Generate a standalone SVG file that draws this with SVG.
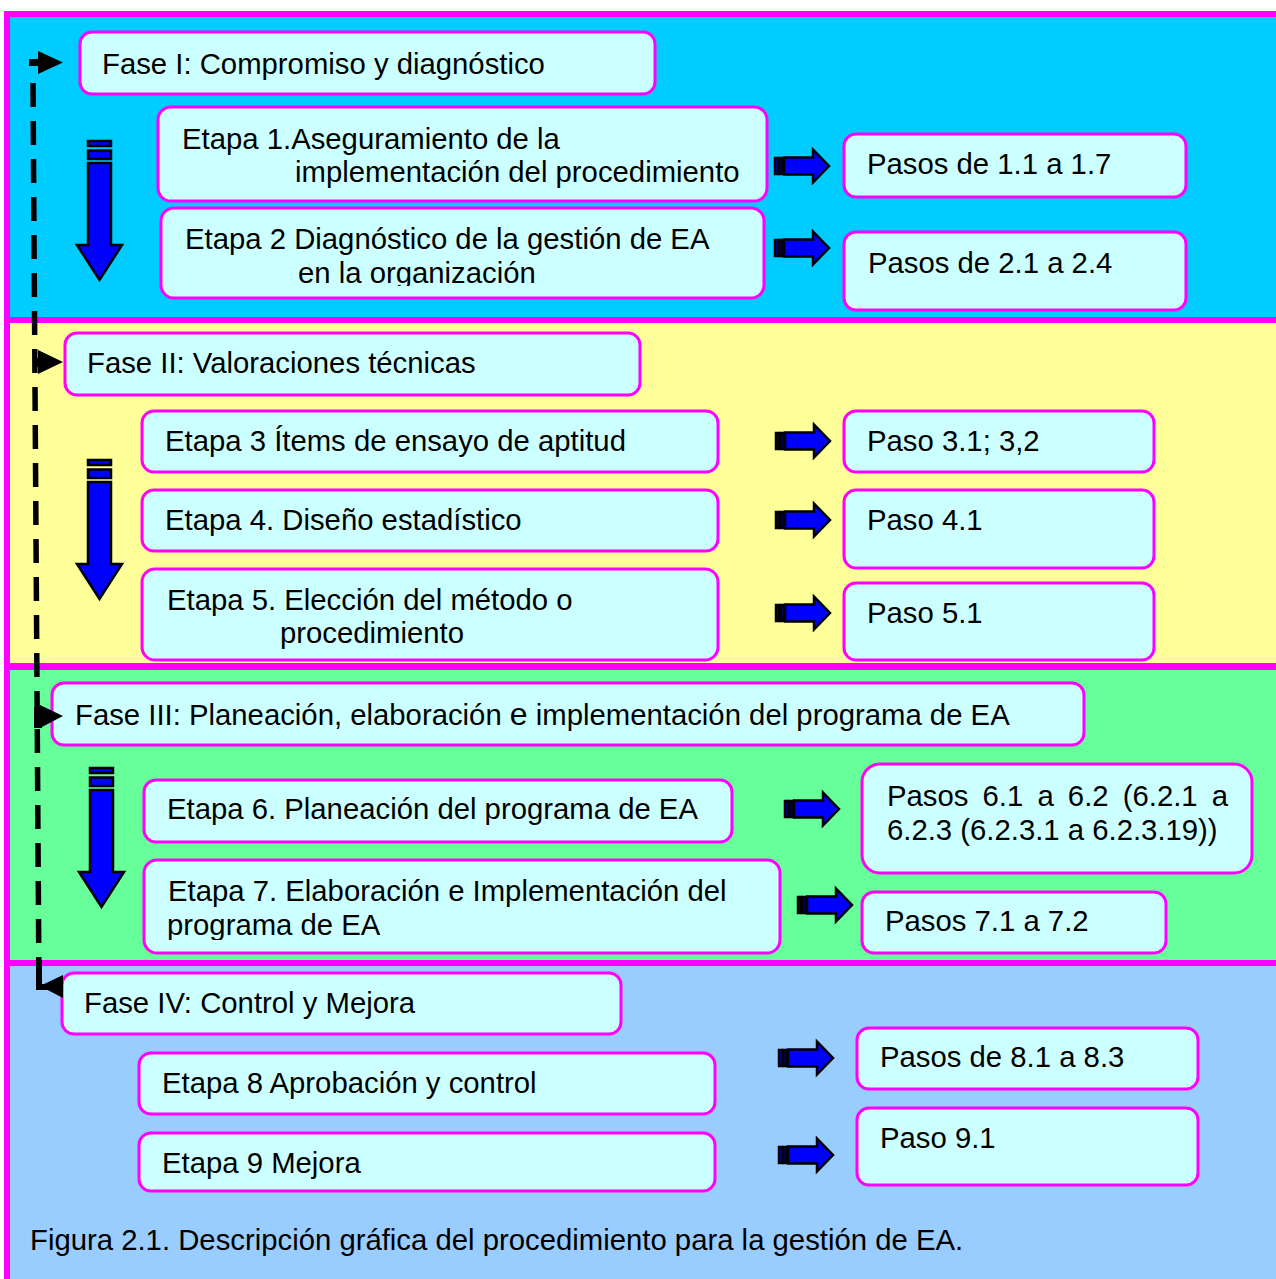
<svg xmlns="http://www.w3.org/2000/svg" width="1276" height="1279" viewBox="0 0 1276 1279">
  <style>
    .box { fill: #CCFFFF; stroke: #FF00FF; stroke-width: 3; }
    .t { font-family: "Liberation Sans", Arial, Helvetica, sans-serif; font-size: 29.3px; fill: #000; }
    .blk { fill: #0000FF; stroke: #000; stroke-width: 2.5; stroke-linejoin: miter; }
    .dash { fill: none; stroke: #000; stroke-width: 5.5; stroke-dasharray: 24 14; }
    .head { fill: #000; }
  </style>
  <defs>
    <!-- block arrow pointing right; origin at tail, vertical centre -->
    <g id="rarrow">
      <rect class="blk" x="1" y="-8" width="3" height="16"/>
      <rect class="blk" x="5.5" y="-8" width="3" height="16"/>
      <path class="blk" d="M10,-8.5 H39 V-16.5 L55,0 L39,16.5 V8.5 H10 Z"/>
    </g>
    <!-- block arrow pointing down; origin at top-left of shaft -->
    <g id="darrow">
      <rect class="blk" x="0" y="0" width="23" height="5"/>
      <rect class="blk" x="0" y="9.5" width="23" height="8.5"/>
      <path class="blk" d="M0,22 H23 V104 H34 L11.5,139 L-11,104 H0 Z"/>
    </g>
    <clipPath id="clipE2"><rect x="161" y="208" width="603" height="78"/></clipPath>
    <clipPath id="clipE7"><rect x="144" y="860" width="636" height="80"/></clipPath>
  </defs>

  <!-- phase bands -->
  <g id="bands">
    <rect x="0" y="0" width="1276" height="1279" fill="#FFFFFF"/>
    <rect x="4" y="11" width="1272" height="1268" fill="#FF00FF"/>
    <rect x="10" y="17" width="1266" height="300" fill="#00CCFF"/>
    <rect x="10" y="323" width="1266" height="340" fill="#FFFF99"/>
    <rect x="10" y="670" width="1266" height="290" fill="#66FF99"/>
    <rect x="10" y="966" width="1266" height="313" fill="#99CCFF"/>
  </g>

  <!-- Fase I -->
  <g id="fase1">
    <rect class="box" x="80" y="32" width="575" height="62" rx="12"/>
    <text class="t" x="102" y="74">Fase I: Compromiso y diagnóstico</text>
  </g>
  <g id="etapa1">
    <rect class="box" x="158" y="107" width="609" height="94" rx="13"/>
    <text class="t" x="182" y="149">Etapa 1.Aseguramiento de la</text>
    <text class="t" x="295" y="182">implementación del procedimiento</text>
  </g>
  <g id="etapa2">
    <rect class="box" x="161" y="208" width="603" height="90" rx="13"/>
    <g clip-path="url(#clipE2)">
      <text class="t" x="185" y="249">Etapa 2 Diagnóstico de la gestión de EA</text>
      <text class="t" x="298" y="283">en la organización</text>
    </g>
  </g>
  <g id="pasos1">
    <rect class="box" x="844" y="134" width="342" height="63" rx="12"/>
    <text class="t" x="867" y="174">Pasos de 1.1 a 1.7</text>
  </g>
  <g id="pasos2">
    <rect class="box" x="844" y="232" width="342" height="78" rx="12"/>
    <text class="t" x="868" y="273">Pasos de 2.1 a 2.4</text>
  </g>

  <!-- Fase II -->
  <g id="fase2">
    <rect class="box" x="65" y="333" width="575" height="62" rx="12"/>
    <text class="t" x="87" y="373">Fase II: Valoraciones técnicas</text>
  </g>
  <g id="etapa3">
    <rect class="box" x="142" y="411" width="576" height="61" rx="12"/>
    <text class="t" x="165" y="451">Etapa 3 Ítems de ensayo de aptitud</text>
  </g>
  <g id="etapa4">
    <rect class="box" x="142" y="490" width="576" height="61" rx="12"/>
    <text class="t" x="165" y="530">Etapa 4. Diseño estadístico</text>
  </g>
  <g id="etapa5">
    <rect class="box" x="142" y="569" width="576" height="91" rx="13"/>
    <text class="t" x="167" y="610">Etapa 5. Elección del método o</text>
    <text class="t" x="280" y="643">procedimiento</text>
  </g>
  <g id="paso3">
    <rect class="box" x="844" y="411" width="310" height="61" rx="12"/>
    <text class="t" x="867" y="451">Paso 3.1; 3,2</text>
  </g>
  <g id="paso4">
    <rect class="box" x="844" y="490" width="310" height="78" rx="12"/>
    <text class="t" x="867" y="530">Paso 4.1</text>
  </g>
  <g id="paso5">
    <rect class="box" x="844" y="583" width="310" height="77" rx="12"/>
    <text class="t" x="867" y="623">Paso 5.1</text>
  </g>

  <!-- Fase III -->
  <g id="fase3">
    <rect class="box" x="52" y="683" width="1032" height="62" rx="12"/>
    <text class="t" x="75" y="725">Fase III: Planeación, elaboración <tspan font-size="32">e</tspan> implementación del programa de EA</text>
  </g>
  <g id="etapa6">
    <rect class="box" x="144" y="780" width="588" height="62" rx="12"/>
    <text class="t" x="167" y="819">Etapa 6. Planeación del programa de EA</text>
  </g>
  <g id="etapa7">
    <rect class="box" x="144" y="860" width="636" height="93" rx="13"/>
    <g clip-path="url(#clipE7)">
      <text class="t" x="168" y="901">Etapa 7. Elaboración e Implementación del</text>
      <text class="t" x="167" y="935">programa de EA</text>
    </g>
  </g>
  <g id="pasos6">
    <rect class="box" x="862" y="764" width="390" height="109" rx="18"/>
    <text class="t" x="887" y="806" word-spacing="6">Pasos 6.1 a 6.2 (6.2.1 a</text>
    <text class="t" x="887" y="840">6.2.3 (6.2.3.1 a 6.2.3.19))</text>
  </g>
  <g id="pasos7">
    <rect class="box" x="862" y="892" width="304" height="61" rx="12"/>
    <text class="t" x="885" y="931">Pasos 7.1 a 7.2</text>
  </g>

  <!-- Fase IV -->
  <g id="fase4">
    <rect class="box" x="62" y="973" width="559" height="61" rx="12"/>
    <text class="t" x="84" y="1013">Fase IV: Control y Mejora</text>
  </g>
  <g id="etapa8">
    <rect class="box" x="139" y="1053" width="576" height="61" rx="12"/>
    <text class="t" x="162" y="1093">Etapa 8 Aprobación y control</text>
  </g>
  <g id="etapa9">
    <rect class="box" x="139" y="1133" width="576" height="58" rx="12"/>
    <text class="t" x="162" y="1173">Etapa 9 Mejora</text>
  </g>
  <g id="pasos8">
    <rect class="box" x="857" y="1028" width="341" height="61" rx="12"/>
    <text class="t" x="880" y="1067">Pasos de 8.1 a 8.3</text>
  </g>
  <g id="paso9">
    <rect class="box" x="857" y="1108" width="341" height="77" rx="12"/>
    <text class="t" x="880" y="1148">Paso 9.1</text>
  </g>

  <!-- phase flow connector on the left, block arrows between steps -->
  <g id="connectors">
    <path class="dash" d="M33,83 L39,990"/>
    <rect class="head" x="29" y="59" width="11" height="7"/>
    <polygon class="head" points="38,51 63,62.5 38,74"/>
    <rect class="head" x="33" y="358" width="8" height="9"/>
    <polygon class="head" points="38,350 63,362 38,374"/>
    <rect class="head" x="34" y="707" width="8" height="21"/>
    <polygon class="head" points="40,705 63,716 40,728"/>
    <rect class="head" x="36" y="960" width="6" height="30"/>
    <rect class="head" x="36" y="984" width="14" height="6"/>
    <polygon class="head" points="40,986 63,975 63,998"/>

    <use href="#darrow" x="88" y="141"/>
    <use href="#darrow" x="88" y="460"/>
    <use href="#darrow" x="90" y="768"/>

    <use href="#rarrow" x="774" y="166"/>
    <use href="#rarrow" x="774" y="248"/>
    <use href="#rarrow" x="775" y="441"/>
    <use href="#rarrow" x="775" y="520"/>
    <use href="#rarrow" x="775" y="613"/>
    <use href="#rarrow" x="784" y="809"/>
    <use href="#rarrow" x="797" y="905"/>
    <use href="#rarrow" x="778" y="1058"/>
    <use href="#rarrow" x="778" y="1155"/>
  </g>

  <text class="t" x="30" y="1250">Figura 2.1. Descripción gráfica del procedimiento para la gestión de EA.</text>
</svg>
